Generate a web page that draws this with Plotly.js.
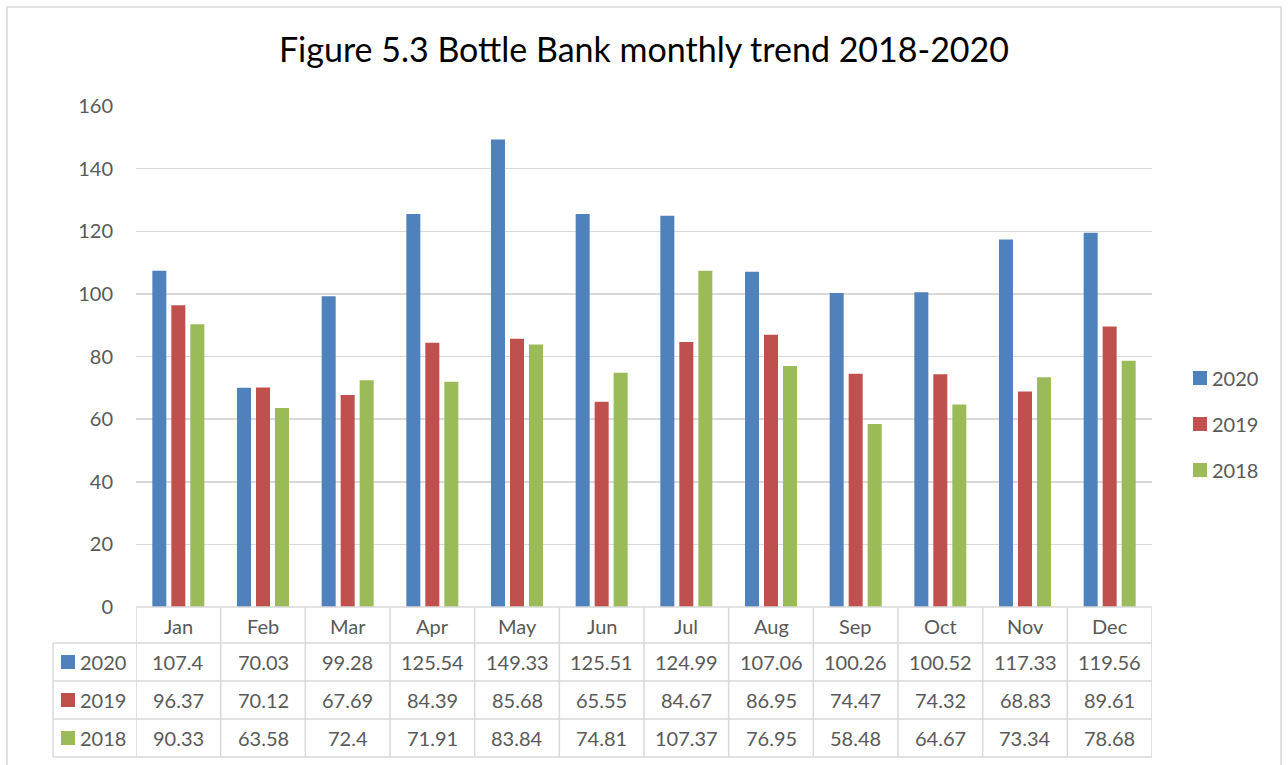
<!DOCTYPE html>
<html>
<head>
<meta charset="utf-8">
<script src="https://cdn.plot.ly/plotly-3.0.1.min.js"></script>
<style>html,body{margin:0;padding:0;background:#fff;}#chart{width:1288px;height:765px;}</style>
</head>
<body>
<div id="chart"></div>
<script>
var months = ["Jan","Feb","Mar","Apr","May","Jun","Jul","Aug","Sep","Oct","Nov","Dec"];
var seriesNames = ["2020","2019","2018"];
var values2020 = [107.4,70.03,99.28,125.54,149.33,125.51,124.99,107.06,100.26,100.52,117.33,119.56];
var values2019 = [96.37,70.12,67.69,84.39,85.68,65.55,84.67,86.95,74.47,74.32,68.83,89.61];
var values2018 = [90.33,63.58,72.4,71.91,83.84,74.81,107.37,76.95,58.48,64.67,73.34,78.68];
var valueLabels2020 = ["107.4","70.03","99.28","125.54","149.33","125.51","124.99","107.06","100.26","100.52","117.33","119.56"];
var valueLabels2019 = ["96.37","70.12","67.69","84.39","85.68","65.55","84.67","86.95","74.47","74.32","68.83","89.61"];
var valueLabels2018 = ["90.33","63.58","72.4","71.91","83.84","74.81","107.37","76.95","58.48","64.67","73.34","78.68"];
var colors = ["#4f81bd","#c0504d","#9bbb59"];

var W = 1288, H = 765;
var L = 136, R = 1152, T = 106, B = 607;
function px(x){ return (x - L) / (R - L); }
function py(y){ return (B - y) / (B - T); }

var allVals = [values2020, values2019, values2018];
var allLabels = [valueLabels2020, valueLabels2019, valueLabels2018];

var traces = seriesNames.map(function(n, i){
  return {
    type: "bar", name: n, x: months, y: allVals[i],
    marker: {color: colors[i]}, hoverinfo: "x+y+name"
  };
});

var grid = "#d9d9d9";
var txt = "#595959";
var fnt = "Lato, 'Open Sans', sans-serif";
var fs = 20;
var shapes = [];
var annotations = [];

// outer border
shapes.push({type:"rect", xref:"paper", yref:"paper", x0:px(7), x1:px(1281), y0:py(775), y1:py(7), line:{color:grid, width:1.5}, fillcolor:"rgba(0,0,0,0)", layer:"below"});

// table horizontal lines
var rowLines = [643, 681, 719, 757];
shapes.push({type:"line", xref:"paper", yref:"paper", x0:0, x1:1, y0:py(607), y1:py(607), line:{color:grid, width:1.5}});
rowLines.forEach(function(y){
  shapes.push({type:"line", xref:"paper", yref:"paper", x0:px(53), x1:1, y0:py(y), y1:py(y), line:{color:grid, width:1.5}});
});
// vertical lines
for (var k = 0; k <= months.length; k++) {
  shapes.push({type:"line", xref:"x", yref:"paper", x0:k-0.5, x1:k-0.5, y0:py(607), y1:py(757), line:{color:grid, width:1.5}});
}
shapes.push({type:"line", xref:"paper", yref:"paper", x0:px(53), x1:px(53), y0:py(643), y1:py(757), line:{color:grid, width:1.5}});

// month headers
months.forEach(function(m){
  annotations.push({xref:"x", yref:"paper", x:m, y:py(626), text:m, showarrow:false, font:{family:fnt, size:fs, color:txt}, xanchor:"center", yanchor:"middle"});
});
var rowCenters = [662, 700, 738];
var legendCenters = [378, 424, 470];
seriesNames.forEach(function(n, i){
  // table row key
  shapes.push({type:"rect", xref:"paper", yref:"paper", x0:px(61), x1:px(75), y0:py(rowCenters[i]+7), y1:py(rowCenters[i]-7), fillcolor:colors[i], line:{width:0}});
  annotations.push({xref:"paper", yref:"paper", x:px(78), y:py(rowCenters[i]), text:n, showarrow:false, font:{family:fnt, size:fs, color:txt}, xanchor:"left", yanchor:"middle"});
  months.forEach(function(m, j){
    annotations.push({xref:"x", yref:"paper", x:m, y:py(rowCenters[i]), text:allLabels[i][j], showarrow:false, font:{family:fnt, size:fs, color:txt}, xanchor:"center", yanchor:"middle"});
  });
  // legend
  shapes.push({type:"rect", xref:"paper", yref:"paper", x0:px(1193), x1:px(1207), y0:py(legendCenters[i]+7), y1:py(legendCenters[i]-7), fillcolor:colors[i], line:{width:0}});
  annotations.push({xref:"paper", yref:"paper", x:px(1210), y:py(legendCenters[i]), text:n, showarrow:false, font:{family:fnt, size:fs, color:txt}, xanchor:"left", yanchor:"middle"});
});

var layout = {
  width: W, height: H,
  margin: {l:L, r:W-R, t:T, b:H-B, pad:0},
  paper_bgcolor: "#ffffff", plot_bgcolor: "#ffffff",
  font: {family: fnt, color: txt},
  title: {text: "Figure 5.3 Bottle Bank monthly trend 2018-2020", font:{family:fnt, size:34, color:"#000000"}, x:0.5, xanchor:"center", y:1-50/H, yanchor:"middle"},
  barmode: "group", bargap: 0.327, bargroupgap: 0.263,
  xaxis: {type:"category", showticklabels:false, showgrid:false, showline:false, zeroline:false, ticks:"", range:[-0.5, 11.5], fixedrange:true},
  yaxis: {range:[0,160], dtick:20, tick0:0, showgrid:true, gridcolor:grid, gridwidth:1.5, zeroline:false, showline:false, ticks:"", tickfont:{family:fnt, size:fs, color:txt}, ticklabelstandoff:22},
  showlegend: false,
  shapes: shapes,
  annotations: annotations
};

Plotly.newPlot("chart", traces, layout, {displayModeBar:false, staticPlot:true});
</script>
</body>
</html>
